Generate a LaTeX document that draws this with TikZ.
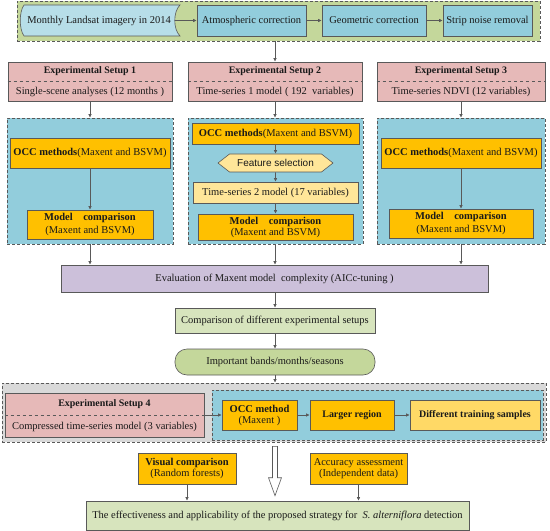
\documentclass[tikz,border=0pt]{standalone}
\usepackage{fontspec}
\setmainfont{Liberation Serif}
\newfontfamily\arialf{Liberation Sans}
\usetikzlibrary{arrows.meta,shapes.symbols,calc}
\definecolor{bordc}{HTML}{595959}
\definecolor{greenbg}{HTML}{C4D79B}
\definecolor{lightgreen}{HTML}{D7E4BD}
\definecolor{pinkc}{HTML}{E6B9B8}
\definecolor{bluec}{HTML}{92CDDC}
\definecolor{lightblue}{HTML}{B7DEE8}
\definecolor{orangec}{HTML}{FFC000}
\definecolor{paleyellow}{HTML}{FFE699}
\definecolor{yellowc}{HTML}{FFD966}
\definecolor{purplec}{HTML}{CCC0DA}
\definecolor{grayc}{HTML}{D9D9D9}
\definecolor{txtc}{HTML}{1A1A1A}
\newcommand\bx[7]{\node[#6, minimum width={(#4-#2)*1bp}, minimum height={(#5-#3)*1bp}] (#1) at ({(#2+#4)/2},{(#3+#5)/2}) {#7};}
\tikzset{
  base/.style={draw=bordc, line width=0.6bp, inner sep=0pt, align=center, text=txtc},
  container/.style={base, dashed, dash pattern=on 3bp off 2bp},
  procbox/.style={base, fill=bluec},
  pinkbox/.style={base, fill=pinkc},
  orangebox/.style={base, fill=orangec},
  palebox/.style={base, fill=paleyellow},
  arr/.style={draw=bordc, line width=0.6bp, -{Latex[length=3.5bp,width=3.5bp]}},
}
\begin{document}
\begin{tikzpicture}[x=1bp,y=-1bp, font=\fontsize{10.5bp}{12bp}\selectfont]
\useasboundingbox (0,0) rectangle (550,531);
% top row
\bx{green}{17}{1}{540}{41}{container, fill=greenbg}{}
\draw[base, fill=lightblue] (24,5) -- (180,5) .. controls (173,12) and (173,29) .. (180,36) -- (24,36) .. controls (19,29) and (19,12) .. cycle;
\node[text=txtc] (monthly) at (99,20.5) {Monthly Landsat imagery in 2014};
\coordinate (monthlyout) at (174.5,20.5);
\bx{atm}{197}{5}{306}{36}{procbox}{Atmospheric correction}
\bx{geo}{322}{5}{426}{36}{procbox}{Geometric correction}
\bx{strip}{443}{5}{532}{36}{procbox}{Strip noise removal}
\draw[arr] (monthlyout) -- (atm.west);
\draw[arr] (atm) -- (geo);
\draw[arr] (geo) -- (strip);
% setups
\bx{s1}{8}{62}{172}{101}{pinkbox}{}
\bx{s2}{188}{62}{362}{101}{pinkbox}{}
\bx{s3}{377}{62}{545}{101}{pinkbox}{}
\foreach \s in {s1,s2,s3}{\draw[draw=bordc, line width=0.6bp, dashed] (\s.west) -- (\s.east);}
\node[font=\bfseries, text=txtc] (s1t) at (90,71.5) {Experimental Setup 1};
\node[text=txtc] (s1b) at (90,91.5) {Single-scene analyses (12 months )};
\node[font=\bfseries, text=txtc] (s2t) at (275,71.5) {Experimental Setup 2};
\node[text=txtc] (s2b) at (275,91.5) {Time-series 1 model ( 192\ \ variables)};
\node[font=\bfseries, text=txtc] (s3t) at (461,71.5) {Experimental Setup 3};
\node[text=txtc] (s3b) at (461,91.5) {Time-series NDVI (12 variables)};
\draw[arr] (green.south -| s2.north) -- (s2.north);
% blue containers
\bx{b1}{7}{118}{173}{244}{container, fill=bluec}{}
\bx{b2}{188}{118}{363}{244}{container, fill=bluec}{}
\bx{b3}{377}{118}{545}{244}{container, fill=bluec}{}
\draw[arr] (s1) -- (b1.north -| s1.south);
\draw[arr] (s2) -- (b2.north -| s2.south);
\draw[arr] (s3) -- (b3.north -| s3.south);
\bx{occ1}{10}{138}{170}{168}{orangebox}{\textbf{OCC methods}(Maxent and BSVM)}
\bx{mc1}{27}{210}{153}{239}{orangebox}{\textbf{Model\quad comparison}\\[1pt](Maxent and BSVM)}
\draw[arr] (occ1) -- (mc1);
\bx{occ2}{192}{123}{359}{144}{orangebox}{\textbf{OCC methods}(Maxent and BSVM)}
\node[base, fill=paleyellow, signal, signal to=west and east, signal pointer angle=76, minimum width=115bp, minimum height=18bp, font=\arialf\fontsize{10bp}{12bp}\selectfont] (feat) at (275.5,163) {Feature selection};
\bx{ts2}{193}{182}{358}{203}{palebox}{Time-series 2 model (17 variables)}
\bx{mc2}{198}{214}{353}{240}{orangebox}{\textbf{Model\quad comparison}\\[-1pt](Maxent and BSVM)}
\draw[arr] (occ2) -- (feat);
\draw[arr] (feat) -- (ts2);
\draw[arr] (ts2) -- (mc2);
\bx{occ3}{381}{138}{541}{168}{orangebox}{\textbf{OCC methods}(Maxent and BSVM)}
\bx{mc3}{389}{209}{533}{238}{orangebox}{\textbf{Model\quad comparison}\\[1pt](Maxent and BSVM)}
\draw[arr] (occ3) -- (mc3);
% evaluation chain
\bx{eval}{61}{265}{488}{292}{base, fill=purplec}{Evaluation of Maxent model\ \ complexity (AICc-tuning )}
\draw[arr] (b1.south -| s1.south) -- (eval.north -| s1.south);
\draw[arr] (b2.south -| s2.south) -- (eval.north -| s2.south);
\draw[arr] (b3.south -| s3.south) -- (eval.north -| s3.south);
\bx{comp}{175}{308}{375}{333}{base, fill=lightgreen}{Comparison of different experimental setups}
\bx{imp}{175}{349}{375}{375}{base, fill=greenbg, rounded corners=12bp}{Important bands/months/seasons}
\draw[arr] (eval.south -| s2.south) -- (comp.north -| s2.south);
\draw[arr] (comp) -- (imp);
% setup 4
\bx{grayb}{2}{383}{546}{442}{container, fill=grayc}{}
\draw[arr] (imp.south) -- (grayb.north -| imp.south);
\bx{s4}{5}{393}{204}{437}{pinkbox}{}
\draw[draw=bordc, line width=0.6bp, dashed] (s4.west) -- (s4.east);
\node[font=\bfseries, text=txtc] (s4t) at (104.5,404) {Experimental Setup 4};
\node[text=txtc] (s4b) at (104.5,426.5) {Compressed time-series model (3 variables)};
\bx{b4}{212}{390}{543}{440}{container, fill=bluec}{}
\bx{occm}{222}{400}{297}{430}{orangebox}{\textbf{OCC method}\\[-1pt](Maxent )}
\bx{larger}{310}{400}{394}{430}{orangebox, font=\bfseries}{Larger region}
\bx{diff}{410}{400}{540}{430}{base, fill=yellowc, font=\bfseries}{Different training samples}
\draw[arr] (s4.east) -- (occm.west);
\draw[arr] (occm) -- (larger);
\draw[arr] (larger) -- (diff);
% bottom
\bx{vis}{138}{453}{236}{484}{orangebox}{\textbf{Visual comparison}\\[-1pt](Random forests)}
\bx{acc}{310}{453}{407}{484}{orangebox}{Accuracy assessment\\[-1pt](Independent data)}
\bx{final}{86}{501}{469}{530}{base, fill=lightgreen}{The effectiveness and applicability of the proposed strategy for\ \ \textit{S. alterniflora} detection}
\draw[arr] (vis) -- (vis.south |- final.north);
\draw[arr] (acc) -- (acc.south |- final.north);
% hollow arrow
\draw[draw=bordc, line width=0.6bp, fill=white, line join=miter]
  ($(grayb.south -| s2.south)+(-2.5,4)$) -- ($(grayb.south -| s2.south)+(2.5,4)$)
  -- ($(final.north -| s2.south)+(2.5,-23)$) -- ($(final.north -| s2.south)+(6.5,-23)$)
  -- ($(final.north -| s2.south)+(0,-5)$) -- ($(final.north -| s2.south)+(-6.5,-23)$)
  -- ($(final.north -| s2.south)+(-2.5,-23)$) -- cycle;
\end{tikzpicture}
\end{document}
